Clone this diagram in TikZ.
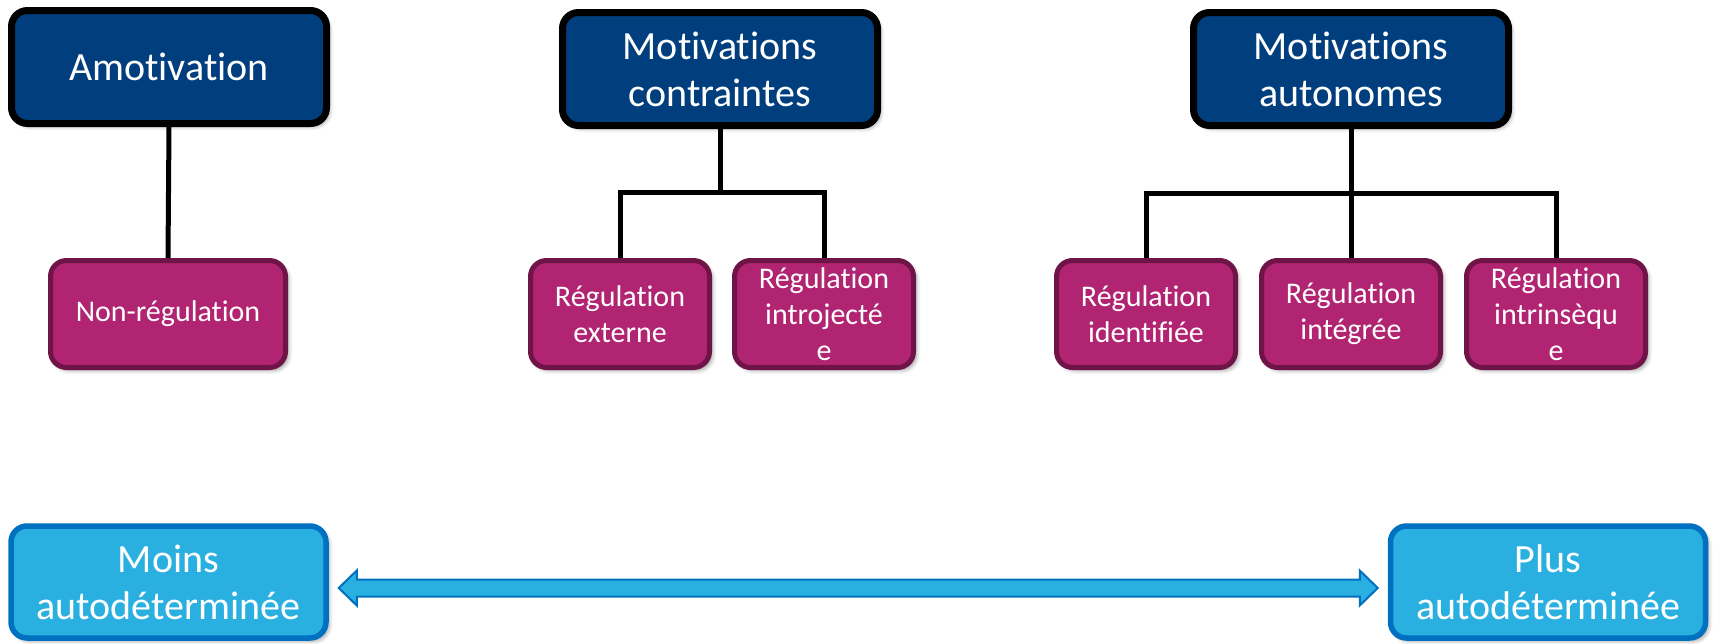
\documentclass[tikz,border=0pt]{standalone}
\usepackage{fontspec}
\setmainfont[Ligatures=NoCommon]{Carlito}
\usetikzlibrary{calc,shadows.blur}
\definecolor{topfill}{RGB}{0,62,126}
\definecolor{magfill}{RGB}{177,36,114}
\definecolor{magdraw}{RGB}{110,20,71}
\definecolor{lbfill}{RGB}{42,176,224}
\definecolor{lbdraw}{RGB}{0,112,192}
\tikzset{
  shad/.style={blur shadow={shadow xshift=1.6pt,shadow yshift=-1.6pt,shadow blur steps=6,shadow opacity=35}},
  topbox/.style={shad,draw=black,fill=topfill,line width=3.5pt,rounded corners=8pt,
    minimum width=157.5pt,minimum height=56.5pt,inner sep=0pt,text=white,align=center,
    font=\fontsize{20pt}{23.5pt}\selectfont},
  regbox/.style={shad,draw=magdraw,fill=magfill,line width=2.5pt,rounded corners=8pt,
    minimum width=89.5pt,minimum height=53.5pt,inner sep=0pt,text=white,align=center,
    font=\fontsize{15pt}{18pt}\selectfont},
  endbox/.style={shad,draw=lbdraw,fill=lbfill,line width=2.75pt,rounded corners=8pt,
    minimum width=157.5pt,minimum height=56pt,inner sep=0pt,text=white,align=center,
    font=\fontsize{20pt}{23.5pt}\selectfont},
  link/.style={draw=black,line width=2.5pt},
  bigarrow/.style={draw=lbdraw,fill=lbfill,line width=1pt,line join=miter}
}
\begin{document}
\begin{tikzpicture}[x=0.5pt,y=-0.5pt]
\useasboundingbox (0,0) rectangle (1718,643);
% top
\node[topbox] (amot) at (169,67) {Amotivation};
\node[topbox] (contr) at (720,69) {Motivations\\contraintes};
\node[topbox] (auton) at (1351,69) {Motivations\\autonomes};
% regulations
\node[regbox,minimum width=117.5pt] (nonreg) at (168,314) {Non-régulation};
\node[regbox] (ext) at (620,314) {Régulation\\externe};
\node[regbox] (intro) at (824,314) {Régulation\\introjecté\\e};
\node[regbox] (ident) at (1146,314) {Régulation\\identifiée};
\node[regbox] (integ) at (1351,314) {Régulation\\intégrée};
\node[regbox] (intrin) at (1556,314) {Régulation\\intrinsèqu\\e};
% bottom
\node[endbox] (moins) at (168.5,582) {Moins\\autodéterminée};
\node[endbox] (plus) at (1548,582) {Plus\\autodéterminée};
% connectors
\coordinate (cj) at (720,192);
\coordinate (aj) at (1351,193);
\draw[link] (amot.south) -- (nonreg.north);
\draw[link] (contr.south) -- (cj);
\draw[link] (ext.north) |- (cj) -| (intro.north);
\draw[link] (auton.south) -- (integ.north);
\draw[link] (ident.north) |- (aj) -| (intrin.north);
% double arrow
\coordinate (aL) at ($(moins.east)+(10,6)$);
\coordinate (aR) at ($(plus.west)+(-10,6)$);
\path[bigarrow] (aL) -- ($(aL)+(18,-17.5)$) -- ($(aL)+(18,-8.5)$) -- ($(aR)+(-18,-8.5)$)
  -- ($(aR)+(-18,-17.5)$) -- (aR) -- ($(aR)+(-18,17.5)$) -- ($(aR)+(-18,8.5)$)
  -- ($(aL)+(18,8.5)$) -- ($(aL)+(18,17.5)$) -- cycle;
\end{tikzpicture}
\end{document}
